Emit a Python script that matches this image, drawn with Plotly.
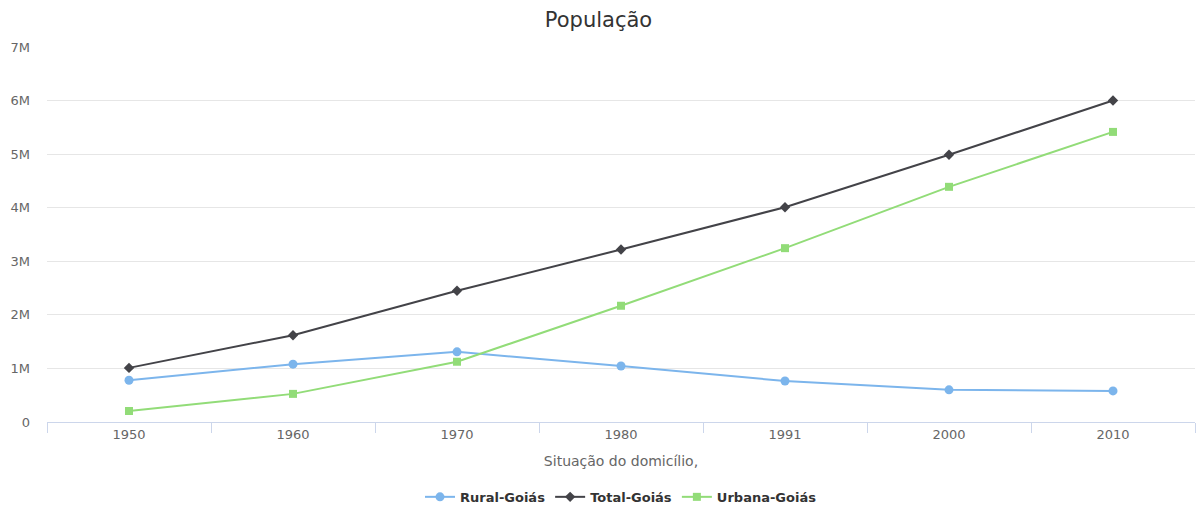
import plotly.graph_objects as go

# Census years and population by household situation (Goiás)
anos = ["1950", "1960", "1970", "1980", "1991", "2000", "2010"]
rural = [780000, 1080000, 1310000, 1045000, 765000, 600000, 580000]
total = [1010000, 1620000, 2450000, 3220000, 4010000, 4990000, 6000000]
urbana = [205000, 525000, 1125000, 2170000, 3245000, 4390000, 5415000]

y_ticks = [0, 1e6, 2e6, 3e6, 4e6, 5e6, 6e6, 7e6]
y_labels = ["0", "1M", "2M", "3M", "4M", "5M", "6M", "7M"]

fig = go.Figure()
fig.add_trace(go.Scatter(
    x=anos, y=rural, name="Rural-Goiás", mode="lines+markers",
    line=dict(color="#7cb5ec", width=2),
    marker=dict(symbol="circle", size=9, color="#7cb5ec"),
))
fig.add_trace(go.Scatter(
    x=anos, y=total, name="Total-Goiás", mode="lines+markers",
    line=dict(color="#434348", width=2),
    marker=dict(symbol="diamond", size=8, color="#434348"),
))
fig.add_trace(go.Scatter(
    x=anos, y=urbana, name="Urbana-Goiás", mode="lines+markers",
    line=dict(color="#92dc78", width=2),
    marker=dict(symbol="square", size=8, color="#92dc78"),
))

fig.update_layout(
    width=1197, height=506,
    margin=dict(l=47, r=2, t=47, b=84, autoexpand=False),
    paper_bgcolor="white", plot_bgcolor="white",
    font=dict(family="DejaVu Sans", color="#666666", size=13),
    title=dict(text="População", x=0.5, xanchor="center", y=0.962, yanchor="middle",
               font=dict(size=21, color="#333333")),
    showlegend=True,
    legend=dict(orientation="h", x=0.5, xanchor="center",
                yref="container", y=0.018, yanchor="middle",
                font=dict(size=13, color="#333333", weight="bold"),
                itemwidth=30, tracegroupgap=0),
    hovermode="x",
)
fig.update_xaxes(
    type="category", range=[-0.5, 6.5], automargin=False,
    showgrid=False, showline=True, linecolor="#ccd6eb", linewidth=1,
    ticks="outside", tickson="boundaries", ticklen=10, tickcolor="#ccd6eb",
    tickfont=dict(size=13, color="#666666"),
    title=dict(text="Situação do domicílio,", font=dict(size=14, color="#666666"), standoff=15),
    zeroline=False,
)
fig.update_yaxes(
    range=[0, 7e6], tickvals=y_ticks, ticktext=y_labels, automargin=False,
    showgrid=True, gridcolor="#e6e6e6", gridwidth=1,
    showline=False, zeroline=False, ticks="",
    ticklabelstandoff=16,
    tickfont=dict(size=13, color="#666666"),
)

fig.write_html("out.html")
